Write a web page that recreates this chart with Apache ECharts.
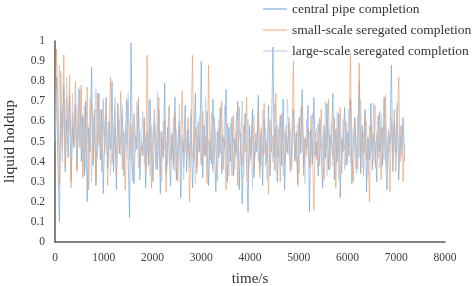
<!DOCTYPE html>
<html><head><meta charset="utf-8">
<script src="https://cdn.jsdelivr.net/npm/echarts@6/dist/echarts.min.js"></script>
<style>html,body{margin:0;padding:0;background:#fff}#c{width:474px;height:286px}</style>
</head><body><div id="c"></div>
<script>
const seriesNames = ['central pipe completion','small-scale seregated completion','large-scale seregated completion'];
const timeStep = 30; // seconds between samples
const xTicks = [0,1000,2000,3000,4000,5000,6000,7000,8000];
const yTicks = [0,0.1,0.2,0.3,0.4,0.5,0.6,0.7,0.8,0.9,1];

const centralPipe = [
0.45,0.82,0.38,0.10,0.66,0.52,0.78,0.35,0.61,0.42,0.73,0.30,0.58,0.47,0.68,0.36,0.55,0.76,0.40,0.63,
0.33,0.70,0.20,0.57,0.45,0.87,0.38,0.62,0.28,0.51,0.74,0.41,0.66,0.24,0.55,0.72,0.37,0.60,0.46,0.80,
0.35,0.58,0.26,0.69,0.44,0.52,0.64,0.33,0.48,0.71,0.41,0.12,0.99,0.47,0.29,0.53,0.46,0.68,0.31,0.50,
0.43,0.62,0.27,0.55,0.38,0.71,0.45,0.30,0.58,0.49,0.36,0.66,0.24,0.52,0.42,0.79,0.34,0.57,0.46,0.28,
0.54,0.39,0.72,0.31,0.48,0.60,0.22,0.51,0.44,0.68,0.35,0.56,0.41,0.63,0.27,0.49,0.74,0.37,0.53,0.45,
0.90,0.32,0.58,0.43,0.65,0.28,0.50,0.39,0.71,0.46,0.25,0.55,0.42,0.67,0.34,0.52,0.47,0.76,0.30,0.57,
0.40,0.62,0.33,0.51,0.44,0.70,0.26,0.54,0.19,0.48,0.64,0.37,0.15,0.58,0.43,0.66,0.32,0.50,0.45,0.73,
0.36,0.55,0.28,0.61,0.47,0.40,0.68,0.33,0.52,0.97,0.42,0.57,0.30,0.49,0.63,0.38,0.71,0.26,0.53,0.45,
0.59,0.35,0.48,0.66,0.41,0.54,0.29,0.62,0.44,0.76,0.37,0.51,0.46,0.68,0.15,0.56,0.39,0.72,0.43,0.50,
0.33,0.61,0.45,0.27,0.58,0.42,0.69,0.36,0.53,0.48,0.74,0.31,0.56,0.40,0.64,0.22,0.51,0.45,0.67,0.38,
0.55,0.43,0.71,0.29,0.50,0.62,0.37,0.47,0.80,0.34,0.58,0.44,0.66,0.25,0.52,0.41,0.69,0.36,0.54,0.48,
0.30,0.63,0.45,0.57,0.38,0.72,0.42,0.26,0.55,0.49,0.88,0.35,0.60,0.44,0.67,0.31,0.53,0.46,0.62,0.40];

const smallScale = [
0.55,0.96,0.70,0.28,0.85,0.46,0.93,0.38,0.72,0.55,0.83,0.27,0.64,0.50,0.80,0.35,0.68,0.47,0.78,0.32,
0.62,0.45,0.77,0.26,0.58,0.70,0.40,0.66,0.30,0.74,0.48,0.59,0.35,0.71,0.44,0.63,0.28,0.56,0.82,0.39,
0.52,0.67,0.33,0.60,0.45,0.75,0.36,0.55,0.26,0.49,0.70,0.42,0.58,0.31,0.64,0.47,0.53,0.72,0.38,0.48,
0.44,0.60,0.35,0.93,0.40,0.57,0.27,0.52,0.66,0.38,0.49,0.72,0.33,0.55,0.43,0.61,0.25,0.50,0.68,0.41,
0.53,0.36,0.64,0.45,0.30,0.58,0.48,0.75,0.37,0.52,0.44,0.62,0.20,0.50,0.93,0.40,0.56,0.34,0.60,0.46,
0.38,0.65,0.43,0.52,0.29,0.88,0.41,0.55,0.35,0.62,0.47,0.31,0.57,0.44,0.70,0.36,0.51,0.26,0.59,0.45,
0.49,0.33,0.63,0.42,0.55,0.28,0.67,0.46,0.38,0.58,0.45,0.72,0.30,0.52,0.41,0.60,0.36,0.54,0.47,0.65,
0.32,0.57,0.43,0.69,0.38,0.50,0.24,0.61,0.45,0.53,0.36,0.74,0.42,0.56,0.30,0.64,0.48,0.39,0.58,0.44,
0.62,0.35,0.51,0.90,0.40,0.55,0.28,0.60,0.46,0.68,0.33,0.52,0.43,0.57,0.37,0.63,0.49,0.16,0.55,0.41,
0.59,0.38,0.66,0.45,0.31,0.54,0.47,0.71,0.36,0.50,0.42,0.62,0.27,0.56,0.44,0.67,0.34,0.52,0.46,0.60,
0.39,0.57,0.94,0.43,0.30,0.61,0.48,0.36,0.89,0.45,0.55,0.33,0.63,0.41,0.52,0.20,0.58,0.46,0.69,0.37,
0.54,0.42,0.65,0.31,0.57,0.47,0.73,0.38,0.51,0.25,0.60,0.44,0.66,0.35,0.55,0.82,0.40,0.58,0.30,0.48];

const largeScale = [
0.50,0.75,0.45,0.88,0.60,0.40,0.70,0.55,0.82,0.48,0.65,0.42,0.74,0.52,0.60,0.38,0.77,0.50,0.62,0.44,
0.68,0.36,0.58,0.47,0.72,0.30,0.63,0.50,0.76,0.42,0.55,0.66,0.35,0.60,0.48,0.70,0.40,0.57,0.33,0.64,
0.46,0.72,0.38,0.55,0.61,0.43,0.68,0.34,0.57,0.49,0.74,0.40,0.53,0.30,0.62,0.45,0.70,0.37,0.56,0.48,
0.65,0.39,0.52,0.44,0.70,0.33,0.58,0.47,0.62,0.36,0.75,0.42,0.55,0.30,0.60,0.46,0.51,0.38,0.67,0.43,
0.48,0.62,0.35,0.56,0.44,0.69,0.39,0.53,0.31,0.60,0.47,0.54,0.37,0.66,0.42,0.50,0.29,0.58,0.45,0.63,
0.40,0.55,0.46,0.72,0.34,0.51,0.43,0.64,0.37,0.58,0.48,0.30,0.61,0.45,0.53,0.39,0.68,0.42,0.56,0.33,
0.59,0.44,0.52,0.36,0.65,0.41,0.56,0.48,0.70,0.32,0.54,0.45,0.61,0.38,0.50,0.27,0.63,0.43,0.55,0.40,
0.52,0.38,0.66,0.44,0.57,0.31,0.60,0.46,0.53,0.40,0.69,0.35,0.58,0.47,0.42,0.62,0.33,0.55,0.45,0.71,
0.43,0.56,0.36,0.63,0.48,0.40,0.59,0.34,0.67,0.45,0.52,0.29,0.61,0.47,0.55,0.38,0.64,0.42,0.50,0.57,
0.36,0.62,0.46,0.53,0.40,0.70,0.33,0.57,0.44,0.60,0.38,0.52,0.47,0.65,0.31,0.55,0.43,0.61,0.36,0.54,
0.48,0.66,0.39,0.57,0.45,0.52,0.34,0.63,0.42,0.71,0.37,0.55,0.46,0.60,0.32,0.58,0.44,0.51,0.40,0.68,
0.45,0.53,0.37,0.64,0.48,0.41,0.59,0.35,0.56,0.44,0.62,0.39,0.52,0.47,0.70,0.36,0.58,0.43,0.55,0.46];

const colors = ['#6a9fd4','#f0a06a','#a9c8e8'];
const font = '"Liberation Serif","DejaVu Serif",serif';
function pairs(vals){ return vals.map((v,i)=>[i*timeStep, v]); }

const chart = echarts.init(document.getElementById('c'));
chart.setOption({
  animation:false,
  backgroundColor:'#fff',
  grid:{left:55,right:29,top:41,bottom:44,containLabel:false,outerBoundsMode:'none'},
  legend:{
    orient:'vertical', left:258, top:-3, itemGap:7,
    itemWidth:24, itemHeight:1, icon:'rect',
    textStyle:{fontFamily:font,fontSize:13.5,color:'#333'},
    data:seriesNames
  },
  xAxis:{
    type:'value', min:xTicks[0], max:xTicks[xTicks.length-1], interval:1000,
    name:'time/s', nameLocation:'middle', nameGap:30,
    nameTextStyle:{fontFamily:font,fontSize:15,color:'#333'},
    axisLine:{show:true,lineStyle:{color:'#595959',width:1.5}},
    axisTick:{show:false}, splitLine:{show:false},
    axisLabel:{fontFamily:font,fontSize:11.5,color:'#404040',margin:10,
      formatter:v=>String(v)}
  },
  yAxis:{
    type:'value', min:yTicks[0], max:yTicks[yTicks.length-1], interval:0.1,
    name:'liquid holdup', nameLocation:'middle', nameGap:37, nameRotate:90,
    nameTextStyle:{fontFamily:font,fontSize:15.5,color:'#333'},
    axisLine:{show:true,lineStyle:{color:'#595959',width:1.5}},
    axisTick:{show:false}, splitLine:{show:false},
    axisLabel:{fontFamily:font,fontSize:11.5,color:'#404040',margin:10,
      formatter:v=>String(+v.toFixed(1))}
  },
  series:[
    {name:seriesNames[0],type:'line',data:pairs(centralPipe),symbol:'none',
     lineStyle:{color:colors[0],width:0.9,opacity:0.7},itemStyle:{color:colors[0]}},
    {name:seriesNames[1],type:'line',data:pairs(smallScale),symbol:'none',
     lineStyle:{color:colors[1],width:0.9,opacity:0.75},itemStyle:{color:colors[1]}},
    {name:seriesNames[2],type:'line',data:pairs(largeScale),symbol:'none',
     lineStyle:{color:colors[2],width:0.9,opacity:0.7},itemStyle:{color:colors[2]}}
  ]
});
</script></body></html>
